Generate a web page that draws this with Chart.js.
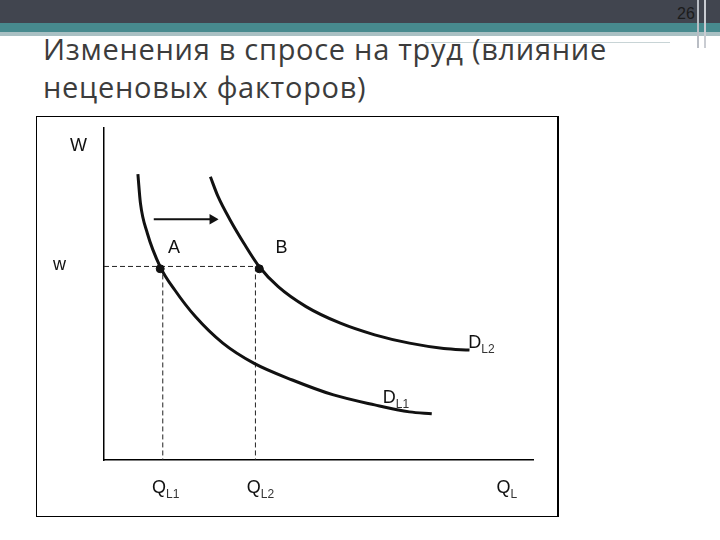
<!DOCTYPE html>
<html>
<head>
<meta charset="utf-8">
<script src="https://cdn.jsdelivr.net/npm/chart.js@4.4.0/dist/chart.umd.min.js"></script>
<style>
body { margin: 0; width: 720px; height: 540px; background: #fff; position: relative; overflow: hidden; }
.band { position: absolute; }
#title { position: absolute; left: 43px; top: 30px; font-family: "Open Sans", sans-serif; font-size: 29px; line-height: 38px; color: #3c3c3c; white-space: nowrap; }
#pageNo { position: absolute; left: 677px; top: 5px; font-family: "Liberation Sans", sans-serif; font-size: 16px; color: #1c1c1c; }
#box { position: absolute; left: 36px; top: 116px; width: 520px; height: 399px; border: 1px solid #000; border-right-width: 2px; }
#box canvas { display: block; }
</style>
</head>
<body>
<div class="band" style="left:0;top:0;width:720px;height:23px;background:#41454f"></div>
<div class="band" style="left:0;top:23px;width:720px;height:9px;background:#478a8e"></div>
<div class="band" style="left:0;top:32px;width:720px;height:4px;background:#a9c0c3"></div>
<div class="band" style="left:425px;top:36px;width:245px;height:6px;background:#fff;border-bottom:1px solid #c8d4d6"></div>
<div class="band" style="left:697px;top:0;width:2px;height:48px;background:#b9bdc4"></div>
<div class="band" style="left:704px;top:0;width:2px;height:48px;background:#c9ccd2"></div>
<div id="pageNo">26</div>
<div id="title"><div class="tl">Изменения в спросе на труд (влияние</div><div class="tl">неценовых факторов)</div></div>
<div id="box"><canvas id="chart1" width="520" height="399"></canvas></div>
<script>
// кривая спроса D_L1
const d1X = [7.9, 8.5, 10.1, 13.1, 16.5, 21.3, 27.7, 35.0, 43.9, 53.5, 63.1, 71.2, 76.4];
const d1Y = [86.1, 77.3, 68.3, 58.2, 51.2, 43.2, 35.2, 29.1, 24.1, 19.6, 16.6, 14.5, 13.9];
// кривая спроса D_L2 (сдвиг вправо)
const d2X = [24.8, 26.6, 29.4, 32.6, 36.2, 40.6, 47.1, 55.1, 63.1, 71.2, 79.2, 85.2];
const d2Y = [85.3, 79.3, 72.3, 65.3, 58.2, 52.2, 46.2, 41.2, 37.7, 35.2, 33.6, 33.1];
// ставка w и объёмы Q_L1, Q_L2
const wage = 58.3;
const qValues = [13.7, 35.3];
// точки равновесия A и B
const pointX = [13.1, 36.2];
const pointY = [57.6, 57.6];
// стрелка сдвига
const arrowX = [11.6, 25.3];
const arrowY = [72.5, 72.5];
// подписи
const labelText = ['W', 'w', 'A', 'B', 'D', 'D', 'Q', 'Q', 'Q'];
const labelSub  = ['', '', '', '', 'L2', 'L1', 'L1', 'L2', 'L'];
const labelX = [-7.9, -11.9, 14.9, 40.0, 84.9, 65.0, 11.2, 33.3, 91.5];
const labelY = [93.1, 57.2, 62.3, 62.3, 33.6, 17.1, -10.0, -10.0, -10.0];

const toPts = (xs, ys) => xs.map((x, i) => ({ x: x, y: ys[i] }));

const textLabels = {
    id: 'textLabels',
    afterDatasetsDraw(chart) {
        const ctx = chart.ctx;
        const sx = chart.scales.x, sy = chart.scales.y;
        ctx.save();
        ctx.textAlign = 'left';
        ctx.textBaseline = 'alphabetic';
        labelText.forEach((t, i) => {
            const px = sx.getPixelForValue(labelX[i]);
            const py = sy.getPixelForValue(labelY[i]);
            ctx.font = '18px "Liberation Sans"';
            ctx.fillStyle = '#111';
            ctx.fillText(t, px, py);
            if (labelSub[i]) {
                const w = ctx.measureText(t).width;
                ctx.font = '12px "Liberation Sans"';
                ctx.fillStyle = '#333';
                ctx.fillText(labelSub[i], px + w, py + 5);
            }
        });
        ctx.restore();
    }
};

const dashStyle = { showLine: true, borderColor: '#222', borderWidth: 1, borderDash: [5, 3], pointRadius: 0 };

new Chart(document.getElementById('chart1'), {
    type: 'scatter',
    data: {
        datasets: [
            { data: toPts(pointX, pointY), pointRadius: 4, backgroundColor: '#111', borderColor: '#111', showLine: false },
            { data: toPts(d1X, d1Y), showLine: true, borderColor: '#111', borderWidth: 3, pointRadius: 0, cubicInterpolationMode: 'monotone' },
            { data: toPts(d2X, d2Y), showLine: true, borderColor: '#111', borderWidth: 3, pointRadius: 0, cubicInterpolationMode: 'monotone' },
            { data: toPts(arrowX, arrowY), showLine: true, borderColor: '#111', borderWidth: 2,
              pointStyle: 'triangle', rotation: 90, pointRadius: [0, 4], backgroundColor: '#111' },
            Object.assign({ data: [{ x: 0, y: wage }, { x: qValues[1], y: wage }] }, dashStyle),
            Object.assign({ data: [{ x: qValues[0], y: wage }, { x: qValues[0], y: 0 }] }, dashStyle),
            Object.assign({ data: [{ x: qValues[1], y: wage }, { x: qValues[1], y: 0 }] }, dashStyle)
        ]
    },
    options: {
        responsive: false,
        animation: false,
        layout: { padding: { left: 67, top: 11, right: 24, bottom: 56 } },
        plugins: { legend: { display: false }, tooltip: { enabled: false } },
        scales: {
            x: { type: 'linear', min: 0, max: 100,
                 grid: { display: false, drawTicks: false },
                 border: { display: true, color: '#000', width: 1.5 },
                 ticks: { display: false } },
            y: { type: 'linear', min: 0, max: 100,
                 grid: { display: false, drawTicks: false },
                 border: { display: true, color: '#000', width: 1.5 },
                 ticks: { display: false } }
        }
    },
    plugins: [textLabels]
});

// подгонка ширины заголовка
const t1 = document.querySelectorAll('#title .tl');
const natural = t1[0].getBoundingClientRect().width;
const ls = (564 - natural) / t1[0].textContent.length;
t1.forEach(el => el.style.letterSpacing = ls + 'px');
</script>
</body>
</html>
